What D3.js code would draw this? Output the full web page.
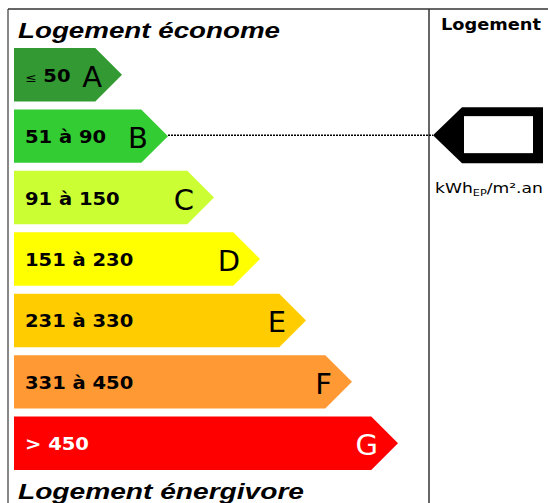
<!DOCTYPE html>
<html>
<head>
<meta charset="utf-8">
<script src="https://cdn.jsdelivr.net/npm/d3@7"></script>
<style>
  body { margin: 0; background: #fff; }
  svg { display: block; }
</style>
</head>
<body>
<div id="chart"></div>
<script>
'use strict';

// energy classes, ranges (kWh_EP/m².an) and label colours
var classes = ['A', 'B', 'C', 'D', 'E', 'F', 'G'];
var ranges = ['50', '51 à 90', '91 à 150', '151 à 230', '231 à 330', '331 à 450', '> 450'];
var colors = ['#339933', '#33cc33', '#ccff33', '#ffff00', '#ffcc00', '#ff9933', '#ff0000'];
var textColors = ['#000', '#000', '#000', '#000', '#000', '#000', '#fff'];
var current = 'B';

var width = 548, height = 503;
var sx = 1.15; // horizontal stretch of the label text

var svg = d3.select('#chart').append('svg')
    .attr('width', width)
    .attr('height', height);

var y = d3.scaleBand()
    .domain(classes)
    .range([48, 470])
    .paddingInner(0.13)
    .paddingOuter(0);

// tip of each arrow grows with the class rank
var tip = d3.scaleLinear()
    .domain([0, classes.length - 1])
    .range([122, 398]);

var bw = y.bandwidth();
var x0 = 14;

// frame
svg.append('line')
    .attr('x1', 8).attr('x2', 8).attr('y1', 9).attr('y2', height)
    .attr('stroke', '#888').attr('stroke-width', 2);
svg.append('line')
    .attr('x1', 8).attr('x2', width).attr('y1', 9).attr('y2', 9)
    .attr('stroke', '#333').attr('stroke-width', 1.5);
svg.append('line')
    .attr('x1', 429).attr('x2', 429).attr('y1', 9).attr('y2', height)
    .attr('stroke', '#333').attr('stroke-width', 1.5);

function stretched(sel, x, yy) {
    return sel.attr('transform', 'translate(' + x + ',' + yy + ') scale(' + sx + ',1)');
}

// titles
svg.append('text')
    .attr('x', 18).attr('y', 38)
    .attr('font-family', 'Liberation Sans')
    .attr('font-weight', 'bold')
    .attr('font-style', 'italic')
    .attr('font-size', 22)
    .attr('textLength', 262)
    .attr('lengthAdjust', 'spacingAndGlyphs')
    .text('Logement économe');

svg.append('text')
    .attr('x', 18).attr('y', 499)
    .attr('font-family', 'Liberation Sans')
    .attr('font-weight', 'bold')
    .attr('font-style', 'italic')
    .attr('font-size', 22)
    .attr('textLength', 286)
    .attr('lengthAdjust', 'spacingAndGlyphs')
    .text('Logement énergivore');

// arrows
var bars = svg.append('g')
    .selectAll('.bar')
    .data(classes)
    .enter().append('g')
    .attr('class', 'bar');

bars.append('path')
    .attr('d', (d, i) => {
        var top = y(d), bot = y(d) + bw, t = tip(i), h = bw / 2;
        var path =
            ' M ' + x0 + ' ' + top +
            ' L ' + (t - h) + ' ' + top +
            ' L ' + t + ' ' + (top + h) +
            ' L ' + (t - h) + ' ' + bot +
            ' L ' + x0 + ' ' + bot +
            ' Z';
        return path;
    })
    .attr('fill', (d, i) => colors[i]);

bars.each(function(d, i) {
    var g = d3.select(this);
    var cy = y(d) + bw / 2;
    var label = stretched(g.append('text'), 25, cy + 7)
        .attr('font-family', 'DejaVu Sans')
        .attr('font-weight', 'bold')
        .attr('font-size', 17)
        .attr('fill', textColors[i]);
    if (i === 0) {
        label.append('tspan').attr('font-size', 12).attr('font-weight', 'normal').text('≤');
        label.append('tspan').text(' ' + ranges[i]);
    } else {
        label.text(ranges[i]);
    }
    g.append('text')
        .attr('x', tip(i) - 20)
        .attr('y', cy + 12)
        .attr('text-anchor', 'end')
        .attr('font-family', 'DejaVu Sans')
        .attr('font-size', 29)
        .attr('fill', textColors[i])
        .text(d);
});

// right column
svg.append('text')
    .attr('x', 441).attr('y', 30)
    .attr('font-family', 'DejaVu Sans')
    .attr('font-weight', 'bold')
    .attr('font-size', 15)
    .attr('textLength', 100)
    .attr('lengthAdjust', 'spacingAndGlyphs')
    .text('Logement');

var ci = classes.indexOf(current);
var my = y(current) + bw / 2;

svg.append('line')
    .attr('x1', tip(ci)).attr('x2', 433)
    .attr('y1', my - 1).attr('y2', my - 1)
    .attr('stroke', '#000')
    .attr('stroke-width', 1.5)
    .attr('stroke-dasharray', '2,1');

svg.append('path')
    .attr('d',
        ' M ' + 433 + ' ' + (my - 1) +
        ' L ' + 462 + ' ' + (my - 29) +
        ' L ' + 543 + ' ' + (my - 29) +
        ' L ' + 543 + ' ' + (my + 27) +
        ' L ' + 462 + ' ' + (my + 27) +
        ' Z')
    .attr('fill', '#000');

svg.append('rect')
    .attr('x', 464).attr('y', my - 20)
    .attr('width', 69).attr('height', 37)
    .attr('fill', '#fff');

var unit = svg.append('text')
    .attr('x', 435).attr('y', 193)
    .attr('font-family', 'DejaVu Sans')
    .attr('font-size', 14.5)
    .attr('textLength', 108)
    .attr('lengthAdjust', 'spacingAndGlyphs')
    .attr('fill', '#000');
unit.append('tspan').text('kWh');
unit.append('tspan').attr('font-size', 9.5).attr('dy', 3).text('EP');
unit.append('tspan').attr('dy', -3).text('/m².an');
</script>
</body>
</html>
